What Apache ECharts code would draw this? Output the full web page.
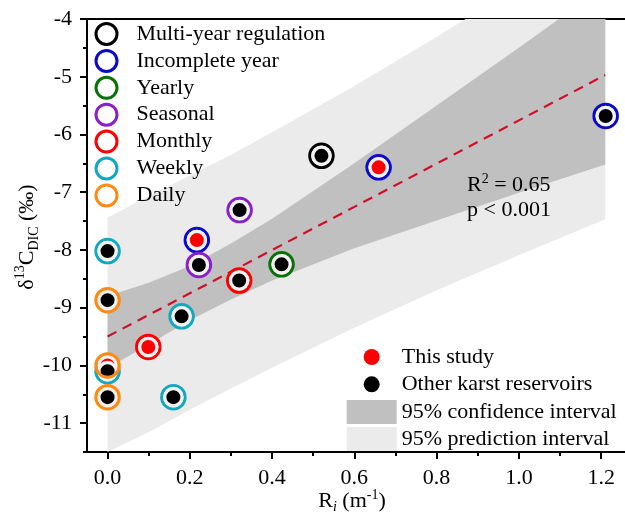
<!DOCTYPE html>
<html><head><meta charset="utf-8">
<script src="https://cdn.jsdelivr.net/npm/echarts@6/dist/echarts.min.js"></script>
<style>html,body{margin:0;padding:0;background:#fff}#c{width:625px;height:522px}</style>
</head><body><div id="c"></div>
<script>
// ---- data ----
const categories = ['Multi-year regulation','Incomplete year','Yearly','Seasonal','Monthly','Weekly','Daily'];
const ringColors = ['#000000','#0a0ac8','#0a700a','#8a1ec8','#ff0000','#12a8c0','#ff8a10'];
// point = [Ri, d13C, source]  source 1 = This study, 0 = Other karst reservoirs
const multiYear      = [[0.52,-6.37,0]];
const incompleteYear = [[0.217,-7.83,1],[0.659,-6.57,1],[1.211,-5.68,0]];
const yearly         = [[0.423,-8.25,0]];
const seasonal       = [[0.321,-7.31,0],[0.222,-8.26,0]];
const monthly        = [[0.32,-8.53,0],[0.099,-9.68,1]];
const weekly         = [[0.0,-8.02,0],[0.18,-9.15,0],[0.16,-10.55,0],[0.0,-10.10,0]];
const daily          = [[0.0,-8.87,0],[0.0,-10.55,0],[0.0,-10.0,1]];
const groups = [multiYear, incompleteYear, yearly, seasonal, monthly, weekly, daily];

const bandX   = [0,      0.1,    0.2,    0.3,    0.4,    0.6,   0.8,   1.0,   1.21];
const ciUpper = [-8.80,  -8.57,  -8.28,  -7.89,  -7.46,  -6.50, -5.50, -4.50, -3.42];
const ciLower = [-10.05, -9.64,  -9.22,  -8.86,  -8.53,  -7.97, -7.49, -7.01, -6.52];
const piUpper = [-7.44,  -7.07,  -6.71,  -6.35,  -5.96,  -5.16, -4.31, -3.43, -2.46];
const piLower = [-11.50, -11.16, -10.77, -10.40, -10.04, -9.35, -8.70, -8.09, -7.47];

const fitX = [0, 1.21];
const fitY = [-9.50, -4.97];

const xTicks = [0, 0.2, 0.4, 0.6, 0.8, 1.0, 1.2];
const xMinor = [0.1, 0.3, 0.5, 0.7, 0.9, 1.1];
const yTicks = [-11, -10, -9, -8, -7, -6, -5, -4];
const yMinor = [-11.5, -10.5, -9.5, -8.5, -7.5, -6.5, -5.5, -4.5];

// ---- chart ----
const FF = 'Liberation Serif';
const XMIN = -0.05, XMAX = 1.258, YMIN = -11.5, YMAX = -4;
const axisCol = '#000';

function bandSeries(name, upper, lower, color, z){
  return {
    type:'custom', name, z, clip:true, silent:true,
    itemStyle:{color},
    data:[[bandX[0], lower[0]]],
    renderItem(params, api){
      const pts = [];
      for (let i=0;i<bandX.length;i++) pts.push(api.coord([bandX[i], upper[i]]));
      for (let i=bandX.length-1;i>=0;i--) pts.push(api.coord([bandX[i], lower[i]]));
      const cs = params.coordSys;
      return {type:'polygon', shape:{points:pts}, style:{fill:color},
        clipPath:{type:'rect', shape:{x:cs.x, y:cs.y, width:cs.width, height:cs.height}}};
    }
  };
}

const series = [
  bandSeries('95% prediction interval', piUpper, piLower, '#ebebeb', 1),
  bandSeries('95% confidence interval', ciUpper, ciLower, '#c0c0c0', 1),
  {type:'line', name:'fit', data: fitX.map((x,i)=>[x, fitY[i]]), symbol:'none', silent:true, z:3,
   lineStyle:{color:'#d0102a', width:2.2, type:[10,7]}}
];
categories.forEach((name,i)=>{
  series.push({type:'scatter', name, data: groups[i].map(p=>[p[0],p[1]]), symbol:'circle', symbolSize:23.5,
    silent:true, z: name==='Daily'?7:4, clip:false,
    itemStyle:{color:'rgba(0,0,0,0)', borderColor:ringColors[i], borderWidth:3, opacity:1}});
});
const all = groups.flat();
series.push({type:'scatter', name:'This study', data: all.filter(p=>p[2]===1).map(p=>[p[0],p[1]]),
  symbol:'circle', symbolSize:17.3, silent:true, z:5, clip:false,
  itemStyle:{color:'#ff0000', borderColor:'#f2f2f2', borderWidth:3.3, opacity:1}});
series.push({type:'scatter', name:'Other karst reservoirs', data: all.filter(p=>p[2]===0).map(p=>[p[0],p[1]]),
  symbol:'circle', symbolSize:17.3, silent:true, z:6, clip:false,
  itemStyle:{color:'#000000', borderColor:'#f2f2f2', borderWidth:3.3, opacity:1}});

const legendText = {fontFamily:FF, fontSize:22, color:'#000', lineHeight:22};

const option = {
  animation:false,
  textStyle:{fontFamily:FF},
  grid:{left:87, right:0, top:19, bottom:70, outerBoundsMode:'none'},
  xAxis:[
    {type:'value', min:XMIN, max:XMAX, position:'bottom',
     axisLine:{show:true, onZero:false, lineStyle:{color:axisCol, width:2}},
     axisTick:{show:true, customValues:xTicks, length:7, lineStyle:{color:axisCol, width:2}},
     axisLabel:{customValues:xTicks, formatter:v=>v.toFixed(1), margin:15, fontSize:22, color:'#000', fontFamily:FF},
     splitLine:{show:false}},
    {type:'value', min:XMIN, max:XMAX, position:'bottom',
     axisLine:{show:false, onZero:false},
     axisTick:{show:true, customValues:xMinor, length:4, lineStyle:{color:axisCol, width:2}},
     axisLabel:{show:false}, splitLine:{show:false}},
    {type:'value', min:XMIN, max:XMAX, position:'top',
     axisLine:{show:true, onZero:false, lineStyle:{color:axisCol, width:2}},
     axisTick:{show:false}, axisLabel:{show:false}, splitLine:{show:false}}
  ],
  yAxis:[
    {type:'value', min:YMIN, max:YMAX, position:'left',
     axisLine:{show:true, onZero:false, lineStyle:{color:axisCol, width:2}},
     axisTick:{show:true, customValues:yTicks, length:7, lineStyle:{color:axisCol, width:2}},
     axisLabel:{customValues:yTicks, margin:15, fontSize:22, color:'#000', fontFamily:FF},
     splitLine:{show:false}},
    {type:'value', min:YMIN, max:YMAX, position:'left',
     axisLine:{show:false, onZero:false},
     axisTick:{show:true, customValues:yMinor, length:4, lineStyle:{color:axisCol, width:2}},
     axisLabel:{show:false}, splitLine:{show:false}}
  ],
  legend:[
    {orient:'vertical', left:89.5, top:17, itemWidth:50, itemHeight:21, itemGap:2.9, selectedMode:false,
     textStyle:legendText,
     data: categories.map((name,i)=>({name, icon:'circle',
       itemStyle:{color:'#ffffff', borderColor:ringColors[i], borderWidth:3, opacity:1}}))},
    {orient:'vertical', left:358.7, top:341, itemWidth:50, itemHeight:16, itemGap:5.3, selectedMode:false,
     textStyle:legendText,
     data:[
       {name:'This study', icon:'circle', itemStyle:{color:'#ff0000', borderWidth:0, opacity:1}},
       {name:'Other karst reservoirs', icon:'circle', itemStyle:{color:'#000000', borderWidth:0, opacity:1}}
     ]},
    {orient:'vertical', left:341.7, top:395, itemWidth:50, itemHeight:24, itemGap:3, selectedMode:false,
     textStyle:legendText,
     data:[
       {name:'95% confidence interval', icon:'rect', itemStyle:{color:'#c0c0c0', borderWidth:0}},
       {name:'95% prediction interval', icon:'rect', itemStyle:{color:'#ebebeb', borderWidth:0}}
     ]}
  ],
  graphic:[
    {type:'text', left:467, top:172, z:100, silent:true,
     style:{text:'{a|R}{s|2}{a| = 0.65}', fill:'#000',
       rich:{a:{fontFamily:FF, fontSize:22, lineHeight:24, verticalAlign:'bottom'},
             s:{fontFamily:FF, fontSize:14, lineHeight:14, verticalAlign:'top'}}}},
    {type:'text', left:467, top:199, z:100, silent:true,
     style:{text:'p < 0.001', fill:'#000', font:'22px "Liberation Serif"'}},
    {type:'text', x:352, y:501, z:100, silent:true,
     style:{text:'{a|R}{i|i}{a| (m}{s|-1}{a|)}', align:'center', verticalAlign:'middle', fill:'#000',
       rich:{a:{fontFamily:FF, fontSize:22, lineHeight:26, verticalAlign:'middle'},
             i:{fontFamily:FF, fontSize:14, fontStyle:'italic', lineHeight:14, verticalAlign:'bottom'},
             s:{fontFamily:FF, fontSize:14, lineHeight:14, verticalAlign:'top'}}}},
    {type:'text', x:27, y:237, rotation:Math.PI/2, z:100, silent:true,
     style:{text:'{a|δ}{s|13}{a|C}{b|DIC}{a| (‰)}', align:'center', verticalAlign:'middle', fill:'#000',
       rich:{a:{fontFamily:FF, fontSize:22, lineHeight:28, verticalAlign:'middle'},
             s:{fontFamily:FF, fontSize:14, lineHeight:14, verticalAlign:'top'},
             b:{fontFamily:FF, fontSize:14, lineHeight:14, verticalAlign:'bottom'}}}}
  ],
  series
};
const chart = echarts.init(document.getElementById('c'), null, {renderer:'canvas'});
chart.setOption(option);
</script></body></html>
